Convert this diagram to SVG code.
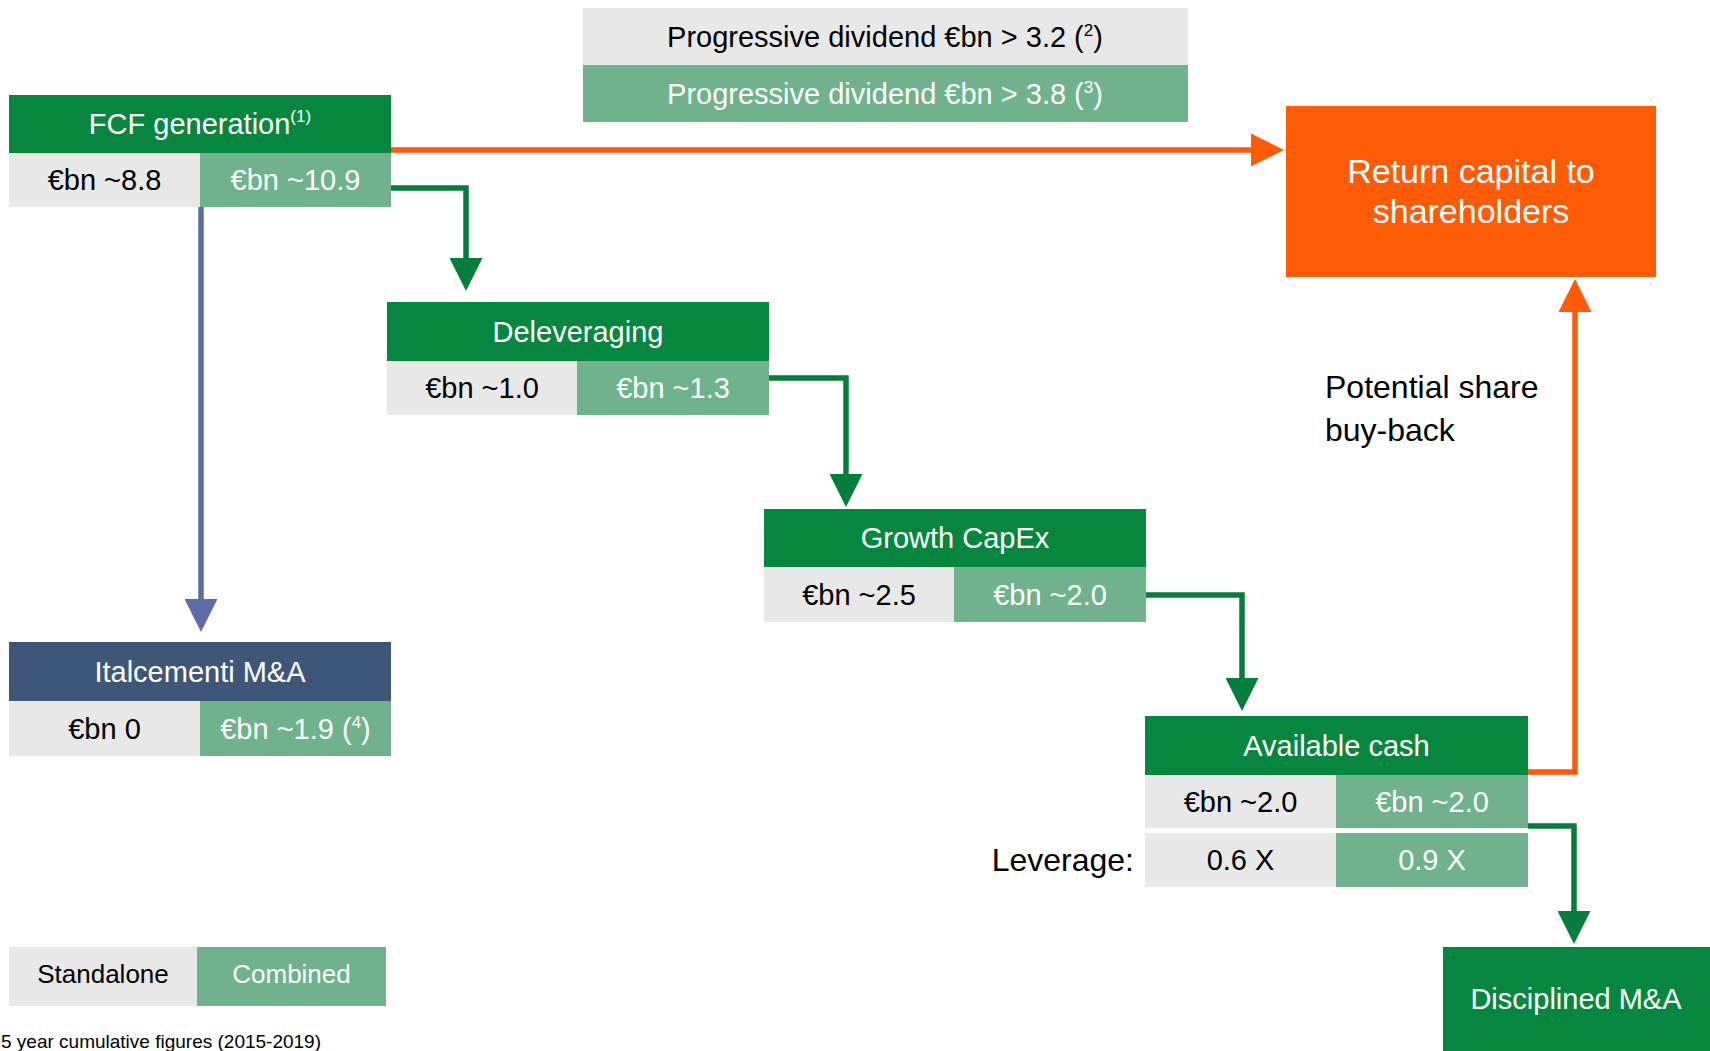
<svg xmlns="http://www.w3.org/2000/svg" width="1710" height="1051" viewBox="0 0 1710 1051">
<style>
text{font-family:"Liberation Sans",Arial,sans-serif;font-size:29px;text-anchor:middle}
.hd{fill:#07873D}
.it{fill:#3E5778}
.gy{fill:#E8E8E8}
.gn{fill:#70B28C}
.or{fill:#FF5A06}
.w{fill:#FFFFFF}
.k{fill:#000000}
.st{text-anchor:start}
.en{text-anchor:end}
.f34{font-size:34px}
.f32{font-size:32px}
.f26{font-size:26px}
.f19{font-size:19px}
.sup{font-size:17px}
.c{fill:none;stroke-width:5.5}
.cg{stroke:#057E3B}
.co{stroke:#FF5A06}
.cb{stroke:#5B6DA4}
</style>
<defs>
<marker id="ag" markerUnits="userSpaceOnUse" viewBox="0 0 33 33" markerWidth="33" markerHeight="33" refX="1" refY="16.5" orient="auto"><path d="M0,0 L33,16.5 L0,33 z" fill="#057E3B"/></marker>
<marker id="ao" markerUnits="userSpaceOnUse" viewBox="0 0 33 33" markerWidth="33" markerHeight="33" refX="1" refY="16.5" orient="auto"><path d="M0,0 L33,16.5 L0,33 z" fill="#FF5A06"/></marker>
<marker id="ab" markerUnits="userSpaceOnUse" viewBox="0 0 33 33" markerWidth="33" markerHeight="33" refX="1" refY="16.5" orient="auto"><path d="M0,0 L33,16.5 L0,33 z" fill="#5B6DA4"/></marker>
</defs>

<g id="connectors">
<path class="c co" d="M391,150 H1252" marker-end="url(#ao)"/>
<path class="c cg" d="M391,188 H466 V259" marker-end="url(#ag)"/>
<path class="c cb" d="M201,207 V600" marker-end="url(#ab)"/>
<path class="c cg" d="M769,378 H846 V475" marker-end="url(#ag)"/>
<path class="c cg" d="M1146,595 H1242 V679" marker-end="url(#ag)"/>
<path class="c co" d="M1528,772 H1575 V311" marker-end="url(#ao)"/>
<path class="c cg" d="M1528,826 H1574 V912" marker-end="url(#ag)"/>
</g>

<g id="dividend">
<rect class="gy" x="583" y="8" width="605" height="57"/>
<text class="k" x="885" y="47">Progressive dividend €bn &gt; 3.2 (<tspan class="sup" dy="-11">2</tspan><tspan dy="11">)</tspan></text>
<rect class="gn" x="583" y="65" width="605" height="57"/>
<text class="w" x="885" y="104">Progressive dividend €bn &gt; 3.8 (<tspan class="sup" dy="-11">3</tspan><tspan dy="11">)</tspan></text>
</g>

<g id="fcf">
<rect class="hd" x="9" y="95" width="382" height="58"/>
<text class="w" x="200" y="134">FCF generation<tspan class="sup" dy="-12">(1)</tspan></text>
<rect class="gy" x="9" y="153" width="191" height="54"/>
<text class="k" x="104.5" y="190">€bn ~8.8</text>
<rect class="gn" x="200" y="153" width="191" height="54"/>
<text class="w" x="295.5" y="190">€bn ~10.9</text>
</g>

<g id="return">
<rect class="or" x="1286" y="106" width="370" height="171"/>
<text class="w f34" x="1471" y="183">Return capital to</text>
<text class="w f34" x="1471" y="223">shareholders</text>
</g>

<g id="deleveraging">
<rect class="hd" x="387" y="302" width="382" height="59"/>
<text class="w" x="578" y="342">Deleveraging</text>
<rect class="gy" x="387" y="361" width="190" height="54"/>
<text class="k" x="482" y="398">€bn ~1.0</text>
<rect class="gn" x="577" y="361" width="192" height="54"/>
<text class="w" x="673" y="398">€bn ~1.3</text>
</g>

<g id="buyback">
<text class="k f32 st" x="1325" y="398">Potential share</text>
<text class="k f32 st" x="1325" y="441">buy-back</text>
</g>

<g id="growth">
<rect class="hd" x="764" y="509" width="382" height="58"/>
<text class="w" x="955" y="548">Growth CapEx</text>
<rect class="gy" x="764" y="567" width="190" height="55"/>
<text class="k" x="859" y="605">€bn ~2.5</text>
<rect class="gn" x="954" y="567" width="192" height="55"/>
<text class="w" x="1050" y="605">€bn ~2.0</text>
</g>

<g id="italcementi">
<rect class="it" x="9" y="642" width="382" height="59"/>
<text class="w" x="200" y="682">Italcementi M&amp;A</text>
<rect class="gy" x="9" y="701" width="191" height="55"/>
<text class="k" x="104.5" y="739">€bn 0</text>
<rect class="gn" x="200" y="701" width="191" height="55"/>
<text class="w" x="295.5" y="739">€bn ~1.9 (<tspan class="sup" dy="-11">4</tspan><tspan dy="11">)</tspan></text>
</g>

<g id="available">
<rect class="hd" x="1145" y="716" width="383" height="59"/>
<text class="w" x="1336.5" y="756">Available cash</text>
<rect class="gy" x="1145" y="775" width="191" height="53"/>
<text class="k" x="1240.5" y="812">€bn ~2.0</text>
<rect class="gn" x="1336" y="775" width="192" height="53"/>
<text class="w" x="1432" y="812">€bn ~2.0</text>
<text class="k f32 en" x="1134" y="871">Leverage:</text>
<rect class="gy" x="1145" y="833" width="191" height="54"/>
<text class="k" x="1240.5" y="870">0.6 X</text>
<rect class="gn" x="1336" y="833" width="192" height="54"/>
<text class="w" x="1432" y="870">0.9 X</text>
</g>

<g id="disciplined">
<rect class="hd" x="1443" y="947" width="267" height="104"/>
<text class="w" x="1576" y="1009">Disciplined M&amp;A</text>
</g>

<g id="legend">
<rect class="gy" x="9" y="947" width="188" height="59"/>
<text class="k f26" x="103" y="983">Standalone</text>
<rect class="gn" x="197" y="947" width="189" height="59"/>
<text class="w f26" x="291.5" y="983">Combined</text>
<text class="k f19 st" x="1" y="1048">5 year cumulative figures (2015-2019)</text>
</g>
</svg>
